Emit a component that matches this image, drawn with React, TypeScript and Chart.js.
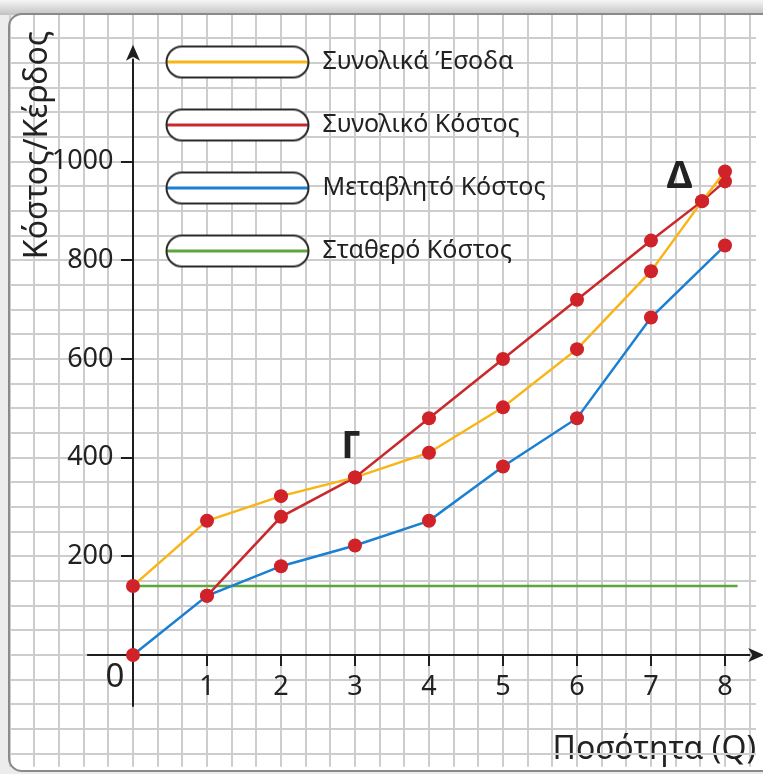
import React, { useEffect, useRef } from 'react';
import { Chart, registerables } from 'chart.js';

Chart.register(...registerables);

// ---------------- data ----------------
const quantity = [0, 1, 2, 3, 4, 5, 6, 7, 8];
const totalRevenue = [140, 272, 322, 360, 410, 502, 620, 778, 980];
const totalCost = [null, 120, 280, 360, 480, 600, 720, 840, 960];
const variableCost = [0, 120, 180, 222, 272, 382, 480, 684, 830];
const fixedCost = 140;
const fixedCostSpan = [0, 8.17];
const breakEvenPoint = { q: 7.69, value: 920 };

const seriesNames = ['Συνολικά Έσοδα', 'Συνολικό Κόστος', 'Μεταβλητό Κόστος', 'Σταθερό Κόστος'];
const seriesColors = ['#f9b518', '#c9282d', '#1b7fd2', '#5ca63b'];

const xTickLabels = [1, 2, 3, 4, 5, 6, 7, 8];
const yTickLabels = [200, 400, 600, 800, 1000];
const xTitle = 'Ποσότητα (Q)';
const yTitle = 'Κόστος/Κέρδος';
const pointLabels = [
  { text: 'Γ', q: 2.95, value: 422 },
  { text: 'Δ', q: 7.385, value: 968 },
];
const originLabel = { text: '0', q: -0.243, value: -45 };

// ---------------- style / layout ----------------
const W = 763;
const H = 774;
const FONT = '"Noto Sans", "DejaVu Sans", sans-serif';
const TEXT = '#222222';
const AXIS = '#1e1e1e';
const GRID = '#cdcdcd';
const POINT_RED = '#cf2229';
const PANEL = { left: 9, top: 14, bottom: 771, radius: 13 };
// where the origin sits and how many pixels one unit takes (paper grid: 3 cells per Q, 4 cells per 200)
const ORIGIN_PX = { x: 133, y: 655 };
const PX_PER_Q = 74;
const PX_PER_VALUE = 74 / 150;
const X_STEP = 1 / 3;
const Y_STEP = 50;
const X_AXIS_SPAN = [-0.62, 8.53];
const Y_AXIS_SPAN = [-105, 1237];
const Y_LABEL_ANCHOR_Q = -0.2635;
const Y_TICK_LEN = 12;

const LEGEND_FONT = 25;
const LEGEND_PAD = 38;
const LEGEND_BOX = 263;
const PILL_W = 142;
const PILL_H = 31;

const seriesPoints = (values: (number | null)[]) =>
  quantity
    .map((q, i) => ({ x: q, y: values[i] }))
    .filter((p) => p.y !== null) as { x: number; y: number }[];

const withBreakEven = (pts: { x: number; y: number }[]) =>
  [...pts, { x: breakEvenPoint.q, y: breakEvenPoint.value }].sort((a, b) => a.x - b.x);

function makePill(color: string) {
  const c = document.createElement('canvas');
  c.width = LEGEND_BOX;
  c.height = PILL_H + 4;
  const g = c.getContext('2d')!;
  const x0 = LEGEND_BOX - PILL_W - 1.5;
  const y0 = 2;
  g.beginPath();
  g.roundRect(x0, y0, PILL_W, PILL_H, PILL_H / 2);
  g.fillStyle = '#ffffff';
  g.fill();
  g.save();
  g.clip();
  g.strokeStyle = color;
  g.lineWidth = 3;
  g.beginPath();
  g.moveTo(x0, y0 + PILL_H / 2);
  g.lineTo(x0 + PILL_W, y0 + PILL_H / 2);
  g.stroke();
  g.restore();
  g.beginPath();
  g.roundRect(x0, y0, PILL_W, PILL_H, PILL_H / 2);
  g.strokeStyle = '#2a2a2a';
  g.lineWidth = 2;
  g.stroke();
  return c;
}

const isLabel = (v: number, list: number[]) => {
  const r = Math.round(v);
  return Math.abs(v - r) < 1e-6 && list.includes(r);
};

const paperPlugin = {
  id: 'paper',
  beforeDraw(chart: any) {
    const { ctx } = chart;
    ctx.save();
    ctx.fillStyle = '#ececec';
    ctx.fillRect(0, 0, W, H);
    const g = ctx.createLinearGradient(0, 0, 0, PANEL.top + 1);
    g.addColorStop(0, '#f6f6f6');
    g.addColorStop(1, '#c2c2c2');
    ctx.fillStyle = g;
    ctx.fillRect(0, 0, W, PANEL.top + 1);
    ctx.beginPath();
    ctx.roundRect(PANEL.left, PANEL.top, W - PANEL.left + 40, PANEL.bottom - PANEL.top, PANEL.radius);
    ctx.fillStyle = '#ffffff';
    ctx.fill();
    ctx.restore();
  },
  beforeDatasetsDraw(chart: any) {
    const { ctx, scales } = chart;
    const xs = scales.x;
    const ys = scales.y;
    ctx.save();
    // panel border
    ctx.beginPath();
    ctx.roundRect(PANEL.left, PANEL.top, W - PANEL.left + 40, PANEL.bottom - PANEL.top, PANEL.radius);
    ctx.strokeStyle = '#8a8a8a';
    ctx.lineWidth = 2;
    ctx.stroke();

    // axes with arrows
    const x0 = xs.getPixelForValue(0);
    const y0 = ys.getPixelForValue(0);
    const xa = xs.getPixelForValue(X_AXIS_SPAN[0]);
    const xb = xs.getPixelForValue(X_AXIS_SPAN[1]);
    const ya = ys.getPixelForValue(Y_AXIS_SPAN[0]);
    const yb = ys.getPixelForValue(Y_AXIS_SPAN[1]);
    const head = 16;
    const half = 7;
    ctx.strokeStyle = AXIS;
    ctx.fillStyle = AXIS;
    ctx.lineWidth = 2;
    ctx.beginPath();
    ctx.moveTo(xa, y0);
    ctx.lineTo(xb - head + 2, y0);
    ctx.moveTo(x0, ya);
    ctx.lineTo(x0, yb + head - 2);
    yTickLabels.forEach((v) => {
      const py = Math.round(ys.getPixelForValue(v));
      ctx.moveTo(x0 - Y_TICK_LEN, py);
      ctx.lineTo(x0, py);
    });
    ctx.stroke();
    ctx.beginPath();
    ctx.moveTo(xb, y0);
    ctx.lineTo(xb - head, y0 - half);
    ctx.lineTo(xb - head + 4, y0);
    ctx.lineTo(xb - head, y0 + half);
    ctx.closePath();
    ctx.fill();
    ctx.beginPath();
    ctx.moveTo(x0, yb);
    ctx.lineTo(x0 - half, yb + head);
    ctx.lineTo(x0, yb + head - 4);
    ctx.lineTo(x0 + half, yb + head);
    ctx.closePath();
    ctx.fill();
    ctx.restore();
  },
  afterDatasetsDraw(chart: any) {
    const { ctx, scales } = chart;
    const xs = scales.x;
    const ys = scales.y;
    ctx.save();
    ctx.fillStyle = TEXT;
    ctx.textAlign = 'center';
    ctx.textBaseline = 'middle';
    ctx.font = `bold 38px ${FONT}`;
    pointLabels.forEach((p) => {
      ctx.fillText(p.text, xs.getPixelForValue(p.q), ys.getPixelForValue(p.value));
    });
    ctx.font = `33px ${FONT}`;
    ctx.fillText(originLabel.text, xs.getPixelForValue(originLabel.q), ys.getPixelForValue(originLabel.value));
    ctx.restore();
  },
};

export default function App() {
  const ref = useRef<HTMLCanvasElement | null>(null);

  useEffect(() => {
    if (!ref.current) return;
    const pills = seriesColors.map(makePill);
    const common = {
      borderWidth: 2.5,
      pointRadius: 7,
      pointHoverRadius: 7,
      pointBorderWidth: 0,
      pointBackgroundColor: POINT_RED,
      tension: 0,
      fill: false,
    };
    const chart = new Chart(ref.current, {
      type: 'line',
      data: {
        datasets: [
          { ...common, label: seriesNames[0], borderColor: seriesColors[0], data: withBreakEven(seriesPoints(totalRevenue)) },
          { ...common, label: seriesNames[1], borderColor: seriesColors[1], data: withBreakEven(seriesPoints(totalCost)) },
          { ...common, label: seriesNames[2], borderColor: seriesColors[2], data: seriesPoints(variableCost) },
          {
            ...common,
            label: seriesNames[3],
            borderColor: seriesColors[3],
            pointRadius: 0,
            pointHoverRadius: 0,
            data: fixedCostSpan.map((q) => ({ x: q, y: fixedCost })),
          },
        ],
      },
      options: {
        responsive: false,
        animation: false,
        devicePixelRatio: 1,
        events: [],
        layout: { padding: { left: PANEL.left, top: PANEL.top, right: 0, bottom: 0 } },
        scales: {
          x: {
            type: 'linear',
            position: { y: 0 },
            min: -1.6757,
            max: 8.5135,
            border: { display: false },
            grid: {
              color: GRID,
              lineWidth: 2,
              tickLength: 11,
              tickWidth: 2,
              tickColor: (c: any) => (c.tick && isLabel(c.tick.value, xTickLabels) ? AXIS : 'rgba(0,0,0,0)'),
            },
            ticks: {
              stepSize: X_STEP,
              includeBounds: false,
              autoSkip: false,
              maxRotation: 0,
              minRotation: 0,
              padding: 0,
              color: TEXT,
              font: { family: FONT, size: 27, lineHeight: 1.555 },
              callback: (v: any) => (isLabel(Number(v), xTickLabels) ? String(Math.round(Number(v))) : ''),
            },
            title: {
              display: true,
              text: xTitle,
              align: 'end',
              color: TEXT,
              font: { family: FONT, size: 32, lineHeight: 1.2 },
              padding: { top: 22.3, bottom: 0 },
            },
          },
          y: {
            type: 'linear',
            position: { x: Y_LABEL_ANCHOR_Q },
            min: -226.5,
            max: 1299.3,
            border: { display: false },
            grid: {
              color: GRID,
              lineWidth: 2,
              drawTicks: false,
            },
            ticks: {
              stepSize: Y_STEP,
              includeBounds: false,
              autoSkip: false,
              padding: 6,
              color: TEXT,
              font: { family: FONT, size: 27, lineHeight: 0.1 },
              callback: (v: any) => (isLabel(Number(v), yTickLabels) ? String(Math.round(Number(v))) : ''),
            },
          },
        },
        plugins: {
          tooltip: { enabled: false },
          title: {
            display: true,
            text: yTitle + '  ',
            position: 'left',
            align: 'end',
            color: TEXT,
            font: { family: FONT, size: 32, lineHeight: 1.2, weight: 'normal' },
            padding: { top: 9.3, bottom: -47.7 },
          },
          legend: {
            position: 'chartArea',
            align: 'start',
            title: { display: true, text: '', font: { size: 1, lineHeight: 1 }, padding: { top: 10.5, bottom: 0 } },
            labels: {
              usePointStyle: true,
              pointStyleWidth: LEGEND_BOX,
              padding: LEGEND_PAD,
              color: TEXT,
              font: { family: FONT, size: LEGEND_FONT },
              generateLabels: (ch: any) =>
                ch.data.datasets.map((ds: any, i: number) => ({
                  text: ds.label,
                  datasetIndex: i,
                  pointStyle: pills[i],
                  fillStyle: 'rgba(0,0,0,0)',
                  strokeStyle: 'rgba(0,0,0,0)',
                  lineWidth: 0,
                  hidden: false,
                  fontColor: TEXT,
                })),
            },
          },
        },
      } as any,
      plugins: [paperPlugin],
    });

    // fit the scale ranges to the laid-out chart area so the origin and unit sizes match the paper grid
    const opts: any = chart.options.scales;
    for (let k = 0; k < 4; k++) {
      const a = chart.chartArea;
      opts.x.min = (a.left - ORIGIN_PX.x) / PX_PER_Q;
      opts.x.max = (a.right - ORIGIN_PX.x) / PX_PER_Q;
      opts.y.max = (ORIGIN_PX.y - a.top) / PX_PER_VALUE;
      opts.y.min = (ORIGIN_PX.y - a.bottom) / PX_PER_VALUE;
      chart.update();
    }
    return () => chart.destroy();
  }, []);

  return (
    <div style={{ position: 'absolute', left: 0, top: 0, width: W, height: H }}>
      <canvas ref={ref} width={W} height={H} style={{ width: W, height: H, display: 'block' }} />
    </div>
  );
}
